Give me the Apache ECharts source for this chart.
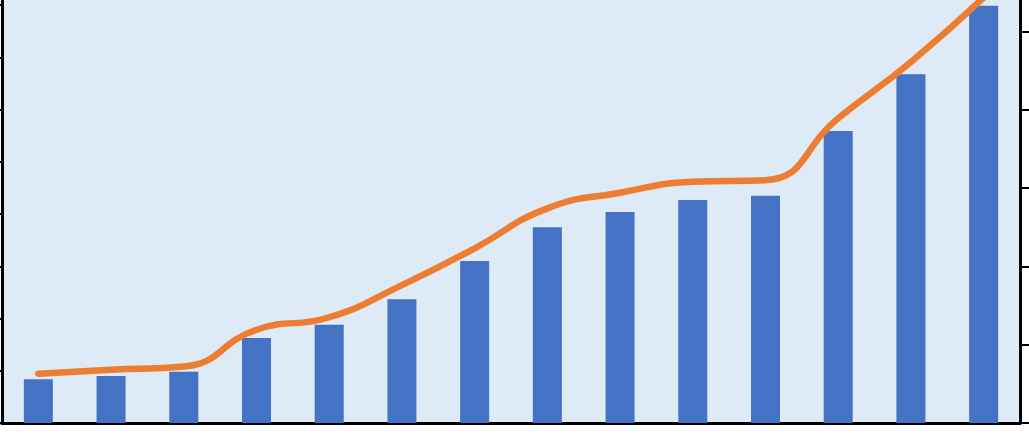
<!DOCTYPE html>
<html>
<head>
<meta charset="utf-8">
<script src="https://cdn.jsdelivr.net/npm/echarts@6/dist/echarts.min.js"></script>
<style>
html,body{margin:0;padding:0;background:#ffffff;overflow:hidden;width:1029px;height:438px;}
#wrap{position:relative;width:1029px;height:438px;overflow:hidden;}
#chart{position:absolute;left:0;top:-47px;width:1029px;height:485px;}
</style>
</head>
<body>
<div id="wrap"><div id="chart"></div></div>
<script>
// Data (labels are not visible in the crop)
var categories = ['1','2','3','4','5','6','7','8','9','10','11','12','13','14'];
var barValues = [84, 90, 98, 163, 188, 237, 310, 375, 404, 427, 435, 559, 668, 799];
var lineValues = [6.3, 6.8, 7.2, 11.9, 13.5, 17.6, 22.3, 27.4, 29.4, 30.8, 31.0, 38.9, 46.1, 54.3];
var leftAxisMax = 900, leftAxisInterval = 100;
var rightAxisMax = 60, rightAxisInterval = 10;

var chart = echarts.init(document.getElementById('chart'), null, {renderer:'canvas'});
chart.setOption({
  animation: false,
  backgroundColor: '#ffffff',
  grid: {left: 2, right: 9, top: 0, bottom: 15, show: true, backgroundColor: '#DEEAF6', borderWidth: 0},
  xAxis: {
    type: 'category', data: categories,
    axisLine: {show: true, lineStyle: {color: '#000', width: 3}},
    axisTick: {show: false}, axisLabel: {show: false}, splitLine: {show: false}
  },
  yAxis: [
    {type: 'value', position: 'left', min: 0, max: leftAxisMax, interval: leftAxisInterval,
     axisLine: {show: true, lineStyle: {color: '#000', width: 3}},
     axisTick: {show: true, length: 5, lineStyle: {color: '#000', width: 2}},
     axisLabel: {show: false}, splitLine: {show: false}},
    {type: 'value', position: 'right', min: 0, max: rightAxisMax, interval: rightAxisInterval,
     axisLine: {show: true, lineStyle: {color: '#000', width: 3}},
     axisTick: {show: true, length: 9, lineStyle: {color: '#000', width: 2}},
     axisLabel: {show: false}, splitLine: {show: false}}
  ],
  series: [
    {type: 'bar', data: barValues, yAxisIndex: 0, barWidth: 29,
     itemStyle: {color: '#4472C4'}, z: 2},
    {type: 'line', data: lineValues, yAxisIndex: 1, smooth: 0.5, showSymbol: false, symbol: 'none',
     lineStyle: {color: '#ED7D31', width: 6.5, cap: 'round', join: 'round'}, z: 3}
  ]
});
</script>
</body>
</html>
